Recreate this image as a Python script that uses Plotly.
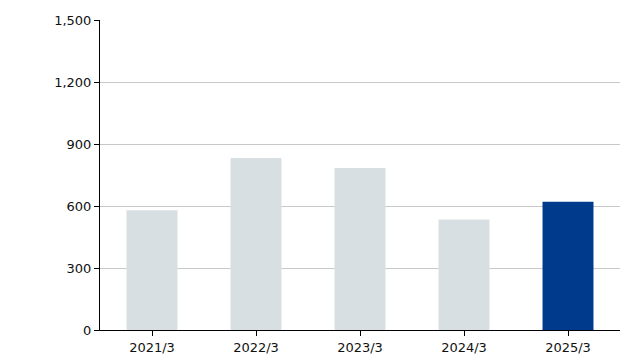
import plotly.graph_objects as go

categories = ["2021/3", "2022/3", "2023/3", "2024/3", "2025/3"]
values = [580, 832, 784, 535, 620]
colors = ["#d7dfe2", "#d7dfe2", "#d7dfe2", "#d7dfe2", "#003a8c"]
y_ticks = [0, 300, 600, 900, 1200, 1500]

fig = go.Figure(go.Bar(x=categories, y=values, marker=dict(color=colors, line=dict(width=0)), width=0.49))

fig.update_layout(
    width=630, height=360,
    margin=dict(l=100, r=10, t=20, b=30, pad=0),
    paper_bgcolor="white", plot_bgcolor="white",
    font=dict(family="DejaVu Sans, Verdana, sans-serif", size=13, color="#111"),
    showlegend=False,
)
fig.update_xaxes(
    showline=True, linecolor="black", linewidth=1,
    ticks="outside", ticklen=5, tickcolor="black",
    showgrid=False, automargin=False,
)
fig.update_yaxes(
    range=[0, 1500], tickvals=y_ticks, tickformat=",",
    showline=True, linecolor="black", linewidth=1,
    ticks="outside", ticklen=5, tickcolor="black",
    showgrid=True, gridcolor="#c8c8c8", gridwidth=1,
    zeroline=False, automargin=False,
)
fig.write_html(
    "out.html",
    config={"displayModeBar": False},
    post_script="document.body.style.margin='0';document.body.style.overflow='hidden';",
)
